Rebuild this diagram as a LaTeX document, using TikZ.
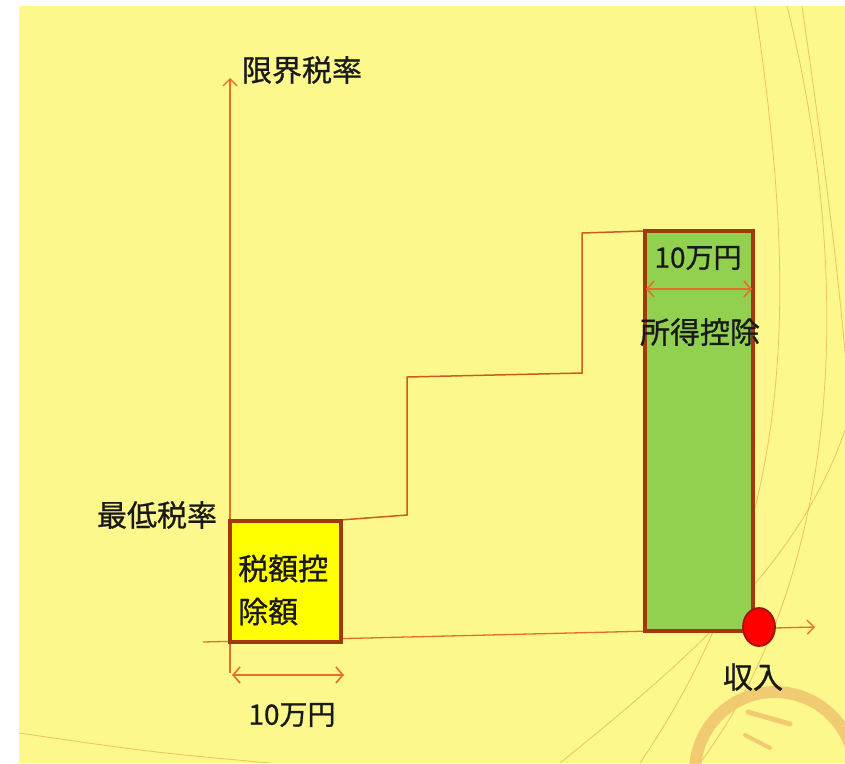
\documentclass[tikz,border=0pt]{standalone}
\usepackage{fontspec}
\newfontfamily\jp[FakeBold=0.8]{Noto Sans CJK JP}
\usetikzlibrary{arrows.meta,shapes.geometric}
\definecolor{bgyellow}{RGB}{253,248,140}
\definecolor{axisor}{RGB}{226,112,42}
\definecolor{stepor}{RGB}{205,90,30}
\definecolor{boxbrown}{RGB}{160,58,14}
\definecolor{boxyellow}{RGB}{255,255,0}
\definecolor{boxgreen}{RGB}{146,208,80}
\definecolor{decor}{RGB}{232,170,80}
\definecolor{ringcol}{RGB}{240,196,110}
\definecolor{dotred}{RGB}{255,0,0}
\definecolor{dotedge}{RGB}{160,20,10}
\begin{document}
\begin{tikzpicture}[x=1pt,y=-1pt,
  lbl/.style={font=\jp\fontsize{30}{43}\selectfont, text=black!90, inner sep=0pt},
  sml/.style={font=\jp\fontsize{28}{34}\selectfont, text=black!90, inner sep=0pt},
  axisline/.style={draw=axisor, line width=1.3pt, -{Straight Barb[length=7pt,width=14pt,line width=1.3pt]}},
  dimline/.style={draw=axisor, line width=1.6pt, {Straight Barb[length=7pt,width=16pt,line width=1.6pt]}-{Straight Barb[length=7pt,width=16pt,line width=1.6pt]}},
  stepline/.style={draw=stepor, line width=1.5pt},
  barbox/.style={draw=boxbrown, line width=3.6pt, inner sep=0pt},
  decorline/.style={draw=decor, line width=0.8pt, opacity=0.7}
]
\useasboundingbox (0,0) rectangle (845,763);
\fill[white] (0,0) rectangle (845,763);
\fill[bgyellow] (19,6) rectangle (845,763);
% background decoration
\begin{scope}
\clip (19,6) rectangle (845,763);
\draw[decorline] (755,6) .. controls (795,280) and (805,520) .. (640,763);
\draw[decorline] (787,6) .. controls (850,260) and (850,560) .. (700,763);
\draw[decorline] (802,6) .. controls (830,200) and (845,330) .. (850,420);
\draw[decorline] (845,430) .. controls (800,560) and (700,650) .. (560,763);
\draw[decorline] (19,733) .. controls (150,752) .. (270,763);
\draw[ringcol, line width=12pt, opacity=0.85] (775,772) circle[radius=80];
\draw[ringcol, line width=5pt, line cap=round, opacity=0.85] (748,712) -- (790,724);
\draw[ringcol, line width=4pt, line cap=round, opacity=0.85] (745,735) -- (770,748);
\end{scope}
% coordinates
\coordinate (yb) at (230,673);
\coordinate (yt) at (230,78);
\coordinate (xl) at (203,642);
\coordinate (xr) at (815,627);
\coordinate (s0) at (340,520);
\coordinate (s1) at (407,515);
\coordinate (s2) at (407,377);
\coordinate (s3) at (582,373);
\coordinate (s4) at (582,233);
\coordinate (s5) at (645,231);
\coordinate (da) at (232,675);
\coordinate (db) at (344,675);
\coordinate (ga) at (646,289);
\coordinate (gb) at (752,289);
% axes
\draw[axisline] (yb) -- (yt);
\draw[axisline] (xl) -- (xr);
% step line
\draw[stepline] (s0) -- (s1) -- (s2) -- (s3) -- (s4) -- (s5);
% boxes
\node[barbox, fill=boxyellow, minimum width=111pt, minimum height=121pt] (tc) at (285.5,581.5) {};
\node[barbox, fill=boxgreen, minimum width=108pt, minimum height=400pt] (ic) at (699,431) {};
% red dot
\node[ellipse, fill=dotred, draw=dotedge, line width=1.8pt, minimum width=32pt, minimum height=38pt, inner sep=0pt] (inc) at (759,627) {};
% dimension arrows
\draw[dimline] (da) -- (db);
\draw[dimline] (ga) -- (gb);
% labels
\node[lbl] (ymax) at (302,70) {限界税率};
\node[lbl] (ymin) at (157,515) {最低税率};
\node[lbl, anchor=west, align=left] (tcl) at (238,590) {税額控\\除額};
\node[sml] (w1) at (292,715) {10万円};
\node[sml] (w2) at (698,258) {10万円};
\node[lbl] (icl) at (700,332) {所得控除};
\node[lbl] (incl) at (753,677) {収入};
\end{tikzpicture}
\end{document}
